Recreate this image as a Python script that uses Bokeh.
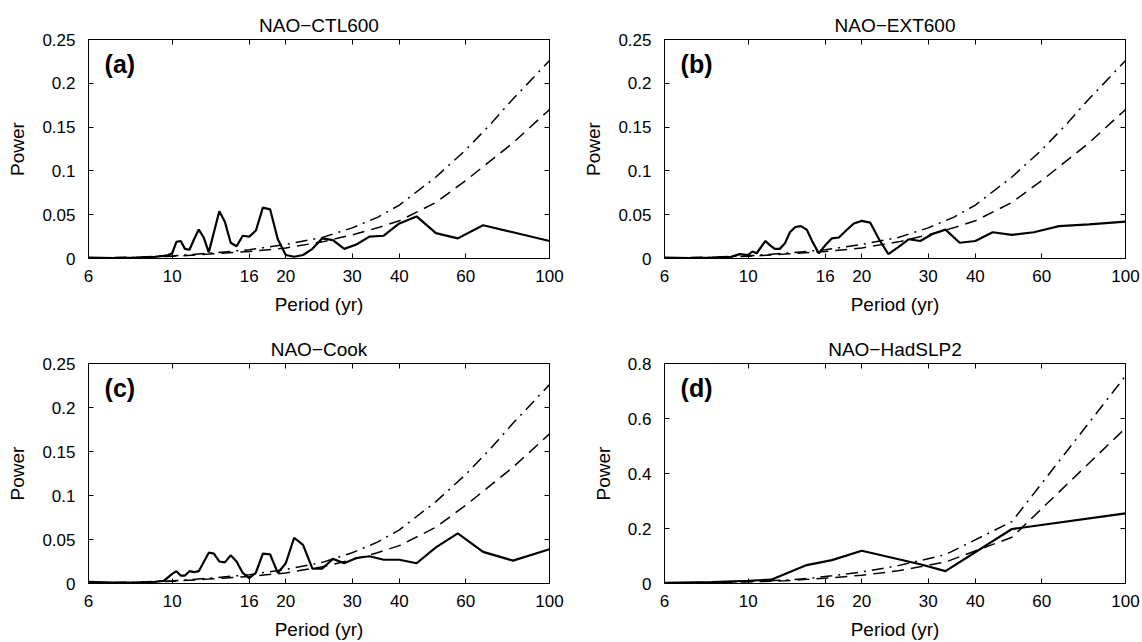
from bokeh.plotting import figure
from bokeh.models import FixedTicker, LinearAxis, LogAxis, Label
from bokeh.layouts import column, row
from bokeh.embed import file_html
from bokeh.resources import INLINE

FONT = "Liberation Sans"

# ---- data ----
x_ticks = [6, 10, 16, 20, 30, 40, 60, 100]
x_tick_labels = ["6", "10", "16", "20", "30", "40", "60", "100"]

y_ticks_small = [0, 0.05, 0.1, 0.15, 0.2, 0.25]
y_labels_small = ["0", "0.05", "0.1", "0.15", "0.2", "0.25"]
y_ticks_big = [0, 0.2, 0.4, 0.6, 0.8]
y_labels_big = ["0", "0.2", "0.4", "0.6", "0.8"]

titles = ["NAO\u2212CTL600", "NAO\u2212EXT600", "NAO\u2212Cook", "NAO\u2212HadSLP2"]
letters = ["(a)", "(b)", "(c)", "(d)"]

ctl_period = [6, 7, 8, 9, 9.5, 9.76, 10, 10.26, 10.53, 10.81, 11.11, 11.43, 11.76, 12.12, 12.5, 12.9, 13.33,
              13.79, 14.29, 14.81, 15.38, 16, 16.67, 17.39, 18.18, 19.05, 20, 21.05, 22.22, 23.53, 25, 26.67,
              28.57, 30.77, 33.33, 36.36, 40, 44.44, 50, 57.14, 66.67, 80, 100]
ctl_power = [0.001, 0.0005, 0.001, 0.002, 0.003, 0.004, 0.006, 0.019, 0.020, 0.011, 0.010, 0.022, 0.033, 0.024,
             0.007, 0.030, 0.054, 0.042, 0.018, 0.014, 0.026, 0.025, 0.032, 0.058, 0.056, 0.022, 0.004, 0.002,
             0.004, 0.011, 0.023, 0.021, 0.011, 0.016, 0.025, 0.026, 0.040, 0.048, 0.029, 0.023, 0.038, 0.030,
             0.020]

ext_period = [6, 7, 8, 9, 9.5, 10, 10.26, 10.53, 11.11, 11.43, 11.76, 12.12, 12.5, 12.9, 13.33, 13.79, 14.29,
              14.81, 15.38, 16, 16.67, 17.39, 18.18, 19.05, 20, 21.05, 22.22, 23.53, 25, 26.67, 28.57, 30.77,
              33.33, 36.36, 40, 44.44, 50, 57.14, 66.67, 80, 100]
ext_power = [0.001, 0.0005, 0.001, 0.002, 0.005, 0.004, 0.008, 0.006, 0.020, 0.015, 0.011, 0.011, 0.017, 0.030,
             0.036, 0.037, 0.033, 0.019, 0.006, 0.015, 0.023, 0.024, 0.032, 0.040, 0.043, 0.041, 0.022, 0.005,
             0.013, 0.022, 0.020, 0.028, 0.033, 0.018, 0.020, 0.030, 0.027, 0.030, 0.037, 0.039, 0.042]

cook_period = [6, 7, 8, 9, 9.5, 10, 10.26, 10.53, 10.81, 11.11, 11.43, 11.76, 12.5, 12.9, 13.33, 13.79, 14.29,
               14.81, 15.38, 16, 16.67, 17.39, 18.18, 19.05, 20, 21.05, 22.22, 23.53, 25, 26.67, 28.57, 30.77,
               33.33, 36.36, 40, 44.44, 50, 57.14, 66.67, 80, 100]
cook_power = [0.002, 0.001, 0.001, 0.002, 0.003, 0.011, 0.014, 0.009, 0.009, 0.014, 0.013, 0.014, 0.035, 0.034,
              0.025, 0.024, 0.032, 0.025, 0.012, 0.006, 0.0125, 0.034, 0.033, 0.012, 0.023, 0.052, 0.044, 0.017,
              0.017, 0.028, 0.023, 0.029, 0.031, 0.027, 0.027, 0.023, 0.041, 0.057, 0.036, 0.026, 0.039]

had_period = [6, 8, 10, 11.5, 14.29, 16.67, 20, 28.57, 33.33, 50, 100]
had_power = [0.002, 0.005, 0.010, 0.014, 0.067, 0.085, 0.119, 0.070, 0.045, 0.198, 0.255]

# significance curves (panels a-c share them)
sig_period = [6, 8, 10, 12.5, 16, 20, 25, 30, 35, 40, 50, 60, 70, 80, 100]
sig95 = [0.0005, 0.0015, 0.003, 0.006, 0.010, 0.016, 0.024, 0.035, 0.047, 0.061, 0.093, 0.124, 0.154, 0.182, 0.226]
sig90 = [0.0005, 0.001, 0.0025, 0.005, 0.008, 0.012, 0.019, 0.027, 0.035, 0.043, 0.064, 0.089, 0.112, 0.132, 0.170]

had_sig_period = [6, 8.33, 10, 12.5, 14.29, 16.67, 20, 25, 33.33, 50, 100]
had_sig95 = [0.002, 0.004, 0.007, 0.012, 0.018, 0.028, 0.042, 0.065, 0.105, 0.225, 0.755]
had_sig90 = [0.002, 0.003, 0.006, 0.010, 0.015, 0.021, 0.030, 0.046, 0.078, 0.168, 0.565]


def panel(idx, period, power, sp, s95, s90, ymax, yticks, ylabels, width, height, bl, br, bt, bb,
          label_standoff):
    p = figure(width=width, height=height, x_axis_type="log", x_range=(6, 100), y_range=(0, ymax),
               output_backend="svg", toolbar_location=None,
               min_border_left=bl, min_border_right=br, min_border_top=bt, min_border_bottom=bb)
    p.background_fill_color = "white"
    p.border_fill_color = "white"
    p.outline_line_color = "black"
    p.outline_line_width = 1
    p.grid.visible = False

    p.title.text = titles[idx]
    p.title.align = "center"
    p.title.text_font = FONT
    p.title.text_font_size = "19px"
    p.title.text_font_style = "normal"
    p.title.text_color = "black"
    p.title.standoff = 8

    p.xaxis.ticker = FixedTicker(ticks=x_ticks)
    p.yaxis.ticker = FixedTicker(ticks=yticks)
    p.xaxis.major_label_overrides = dict(zip(x_ticks, x_tick_labels))
    p.yaxis.major_label_overrides = dict(zip(yticks, ylabels))
    p.xaxis.axis_label = "Period (yr)"
    p.yaxis.axis_label = "Power"
    for ax in (p.xaxis, p.yaxis):
        ax.axis_label_text_font = FONT
        ax.axis_label_text_font_size = "19px"
        ax.axis_label_text_font_style = "normal"
        ax.axis_label_text_color = "black"
        ax.major_label_text_font = FONT
        ax.major_label_text_font_size = "17px"
        ax.major_label_text_color = "black"
        ax.major_tick_in = 5
        ax.major_tick_out = 0
        ax.minor_tick_line_color = None
        ax.axis_line_color = "black"
        ax.major_tick_line_color = "black"
    p.xaxis.major_label_standoff = 11
    p.yaxis.major_label_standoff = 13
    p.xaxis.axis_label_standoff = label_standoff
    p.yaxis.axis_label_standoff = 11

    right = LinearAxis(ticker=FixedTicker(ticks=yticks), major_label_text_color=None,
                       major_label_text_font_size="1px",
                       major_tick_in=5, major_tick_out=0, minor_tick_line_color=None,
                       axis_line_color="black", major_label_standoff=0)
    top = LogAxis(ticker=FixedTicker(ticks=x_ticks), major_label_text_color=None,
                  major_label_text_font_size="1px",
                  major_tick_in=5, major_tick_out=0, minor_tick_line_color=None,
                  axis_line_color="black", major_label_standoff=0)
    p.add_layout(right, "right")
    p.add_layout(top, "above")

    p.line(sp, s90, line_color="black", line_width=1.5, line_dash="12 7")
    p.line(sp, s95, line_color="black", line_width=1.5, line_dash="12 6 2 6")
    p.line(period, power, line_color="black", line_width=2.2)

    p.add_layout(Label(x=6.62, y=ymax * 0.238 / 0.25, text=letters[idx], text_font=FONT,
                       text_font_size="25px", text_font_style="bold", text_baseline="top",
                       text_align="left", text_color="black"))
    return p


pa = panel(0, ctl_period, ctl_power, sig_period, sig95, sig90, 0.25, y_ticks_small, y_labels_small,
           576, 321, 88, 27, 39, 63, 9)
pb = panel(1, ext_period, ext_power, sig_period, sig95, sig90, 0.25, y_ticks_small, y_labels_small,
           566, 321, 88, 17, 39, 63, 9)
pc = panel(2, cook_period, cook_power, sig_period, sig95, sig90, 0.25, y_ticks_small, y_labels_small,
           576, 321, 88, 27, 42, 59, 9)
pd = panel(3, had_period, had_power, had_sig_period, had_sig95, had_sig90, 0.8, y_ticks_big, y_labels_big,
           566, 321, 88, 17, 42, 59, 9)

layout = column(row(pa, pb), row(pc, pd))
open("out.html", "w").write(file_html(layout, INLINE))
